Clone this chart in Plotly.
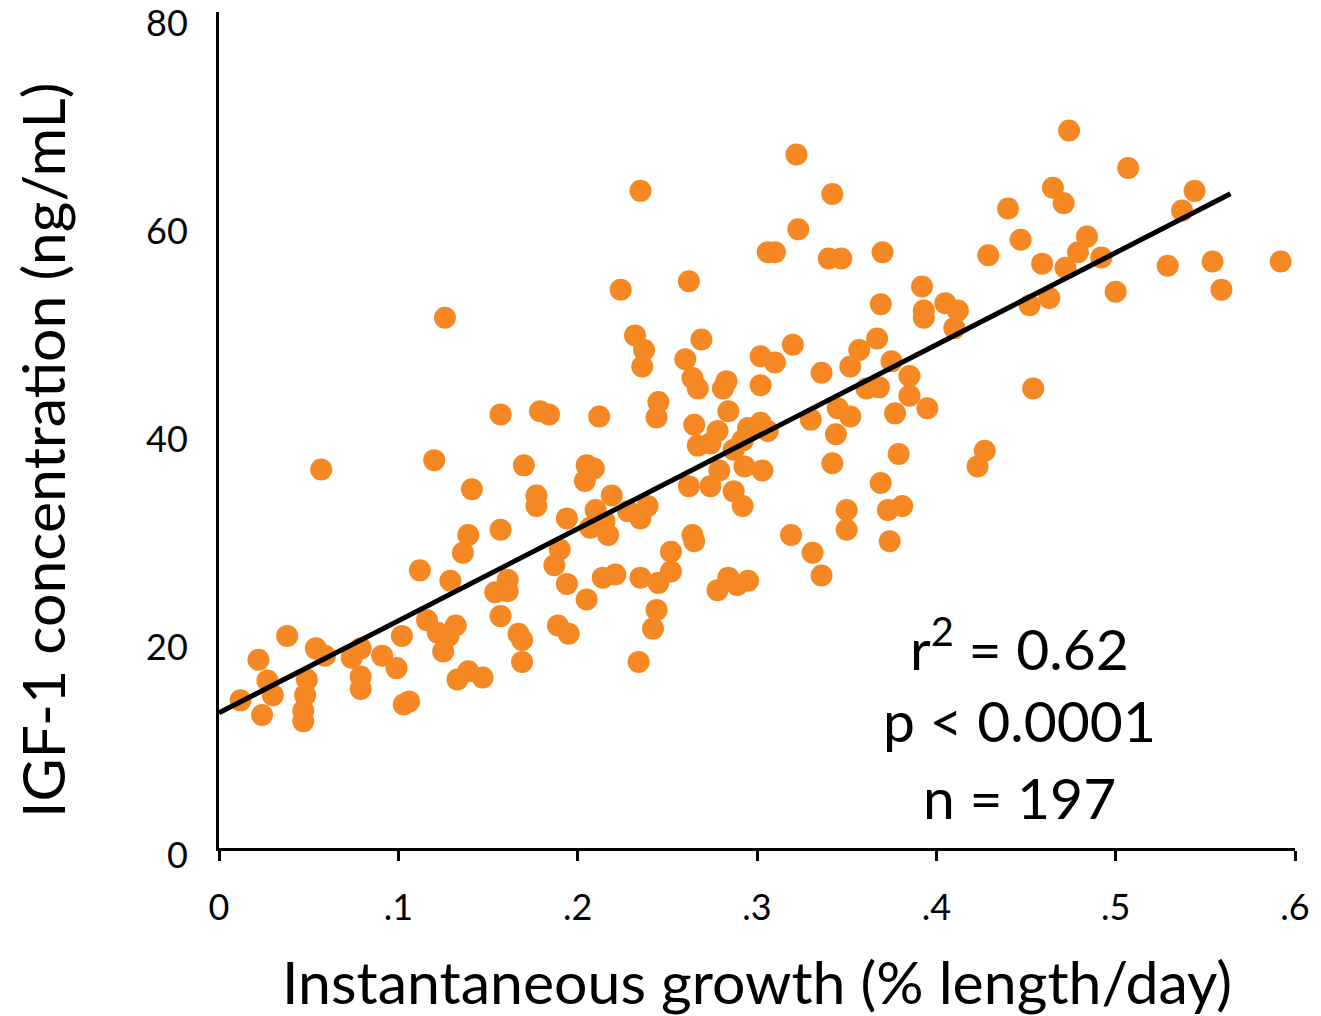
import plotly.graph_objects as go

# Instantaneous growth (% length/day)
growth = [
    0.012, 0.022, 0.024, 0.027, 0.030, 0.038, 0.047, 0.047, 0.048, 0.049, 0.054, 0.057, 0.059,
    0.074, 0.079, 0.079, 0.079, 0.091, 0.099, 0.102, 0.106, 0.103, 0.112, 0.116, 0.120, 0.122,
    0.125, 0.126, 0.128, 0.129, 0.132, 0.133, 0.136, 0.139, 0.139, 0.141, 0.147, 0.154, 0.157,
    0.157, 0.157, 0.161, 0.161,
    0.167, 0.169, 0.169, 0.170, 0.177, 0.177, 0.179, 0.184, 0.187, 0.190, 0.189, 0.194, 0.194,
    0.195, 0.204, 0.205, 0.209, 0.205, 0.207, 0.210, 0.212, 0.214, 0.215, 0.217, 0.219, 0.221,
    0.224,
    0.228, 0.232, 0.234, 0.235, 0.235, 0.235, 0.236, 0.237, 0.239, 0.242, 0.244, 0.244, 0.245,
    0.245, 0.252, 0.252, 0.260, 0.262, 0.262, 0.264, 0.264, 0.265, 0.265, 0.267, 0.267, 0.269,
    0.274, 0.274, 0.278, 0.278, 0.279, 0.281, 0.283, 0.284, 0.284, 0.287, 0.287, 0.289, 0.292,
    0.292, 0.293, 0.295, 0.295, 0.302, 0.302, 0.302, 0.303, 0.306, 0.306, 0.310, 0.310, 0.319,
    0.320, 0.322, 0.323,
    0.330, 0.331, 0.336, 0.336, 0.340, 0.342, 0.342, 0.344, 0.345, 0.347, 0.350, 0.350, 0.352,
    0.352, 0.357, 0.361, 0.367, 0.368, 0.369, 0.369, 0.370, 0.373, 0.374, 0.375, 0.377, 0.379,
    0.381,
    0.385, 0.385, 0.392, 0.393, 0.393, 0.395, 0.405, 0.410, 0.412, 0.423, 0.427, 0.429,
    0.440, 0.447, 0.452, 0.454, 0.459, 0.463, 0.465, 0.471, 0.472, 0.474, 0.479, 0.484, 0.492,
    0.500, 0.507, 0.529, 0.537, 0.544, 0.554, 0.559, 0.592,
]

# IGF-1 concentration (ng/mL)
igf1 = [
    14.2, 18.1, 12.8, 16.1, 14.7, 20.4, 13.2, 12.2, 14.7, 16.2, 19.2, 36.4, 18.5,
    18.3, 19.2, 16.5, 15.3, 18.5, 17.3, 20.4, 14.1, 13.8, 26.7, 21.9, 37.3, 20.7,
    18.9, 51.0, 20.4, 25.7, 21.4, 16.2, 28.4, 30.1, 17.0, 34.5, 16.4, 24.6, 41.7,
    30.6, 22.3, 25.8, 24.7,
    20.6, 20.0, 17.9, 36.8, 33.9, 32.9, 42.0, 41.7, 27.2, 28.7, 21.4, 31.7, 25.4,
    20.6, 35.3, 36.8, 36.5, 23.9, 30.8, 32.5, 41.5, 26.0, 31.4, 30.1, 33.9, 26.3,
    53.7,
    32.4, 49.3, 17.9, 31.7, 26.0, 63.2, 46.3, 47.9, 32.9, 21.1, 22.9, 41.4, 42.9,
    25.5, 26.6, 28.5, 47.0, 54.5, 34.8, 45.2, 30.1, 29.5, 40.7, 44.2, 38.7, 48.9,
    38.9, 34.8, 40.1, 24.8, 36.3, 44.2, 44.9, 42.0, 26.0, 38.3, 34.3, 25.3, 39.2,
    32.9, 36.7, 40.4, 25.7, 44.5, 47.3, 40.9, 36.3, 40.1, 57.3, 57.3, 46.7, 30.1,
    48.4, 66.7, 59.5,
    41.2, 28.4, 45.7, 26.2, 56.7, 62.9, 37.0, 39.8, 42.3, 56.7, 32.5, 30.6, 46.3,
    41.5, 47.9, 44.2, 49.0, 44.3, 52.3, 35.1, 57.3, 32.5, 29.5, 46.8, 41.8, 37.9,
    32.9,
    45.4, 43.5, 54.0, 51.7, 51.0, 42.3, 52.4, 50.0, 51.7, 36.7, 38.2, 57.0,
    61.5, 58.5, 52.2, 44.2, 56.2, 52.9, 63.5, 62.0, 55.8, 69.0, 57.3, 58.8, 56.8,
    53.5, 65.4, 56.0, 61.3, 63.2, 56.4, 53.7, 56.4,
]

# Regression line
fit_intercept = 13.0
fit_slope = 88.5
fit_x = [0.0, 0.564]

x_tick_vals = [0, 0.1, 0.2, 0.3, 0.4, 0.5, 0.6]
x_tick_text = ["0", ".1", ".2", ".3", ".4", ".5", ".6"]
y_tick_vals = [0, 20, 40, 60, 80]

stats_lines = ["r<sup>2</sup> = 0.62", "p < 0.0001", "n = 197"]

FONT = "Lato, 'Open Sans', sans-serif"
ORANGE = "#F58823"

fig = go.Figure()
fig.add_trace(go.Scatter(
    x=growth, y=igf1, mode="markers",
    marker=dict(color=ORANGE, size=22, line=dict(width=0)),
    showlegend=False, hoverinfo="x+y",
))
fig.add_trace(go.Scatter(
    x=fit_x, y=[fit_intercept + fit_slope * v for v in fit_x], mode="lines",
    line=dict(color="black", width=5), showlegend=False, hoverinfo="skip",
))

fig.update_layout(
    width=1313, height=1008,
    margin=dict(l=211, r=26, t=4, b=168, autoexpand=False),
    paper_bgcolor="white", plot_bgcolor="white",
    font=dict(family=FONT, color="black"),
    xaxis=dict(
        range=[0, 0.6], showgrid=False, zeroline=False, automargin=False,
        showline=True, linecolor="black", linewidth=3,
        tickvals=x_tick_vals, ticktext=x_tick_text,
        ticks="outside", ticklen=10, tickwidth=3, tickcolor="black",
        tickfont=dict(size=36, family=FONT), ticklabelstandoff=16,
        ticklabeloverflow="allow",
    ),
    yaxis=dict(
        range=[0, 80.4], showgrid=False, zeroline=False, automargin=False,
        showline=True, linecolor="black", linewidth=3,
        tickvals=y_tick_vals, ticks="",
        tickfont=dict(size=36, family=FONT), ticklabelstandoff=21,
        ticklabelshift=7, ticklabeloverflow="allow",
    ),
)

# axis titles
fig.add_annotation(
    text="Instantaneous growth (% length/day)", xref="paper", yref="paper",
    x=0.5, y=-0.160, xanchor="center", yanchor="middle", showarrow=False,
    font=dict(size=59, family=FONT), borderpad=0,
)
fig.add_annotation(
    text="IGF-1 concentration (ng/mL)", xref="paper", yref="paper",
    x=-0.1645, y=0.476, xanchor="center", yanchor="middle", textangle=-90,
    showarrow=False, font=dict(size=59, family=FONT),
)

# statistics block
for text, yp in zip(stats_lines, [0.243, 0.153, 0.061]):
    fig.add_annotation(
        text=text, xref="paper", yref="paper", x=0.744, y=yp,
        xanchor="center", yanchor="middle", showarrow=False,
        font=dict(size=57, family=FONT),
    )

fig.write_html("out.html")
